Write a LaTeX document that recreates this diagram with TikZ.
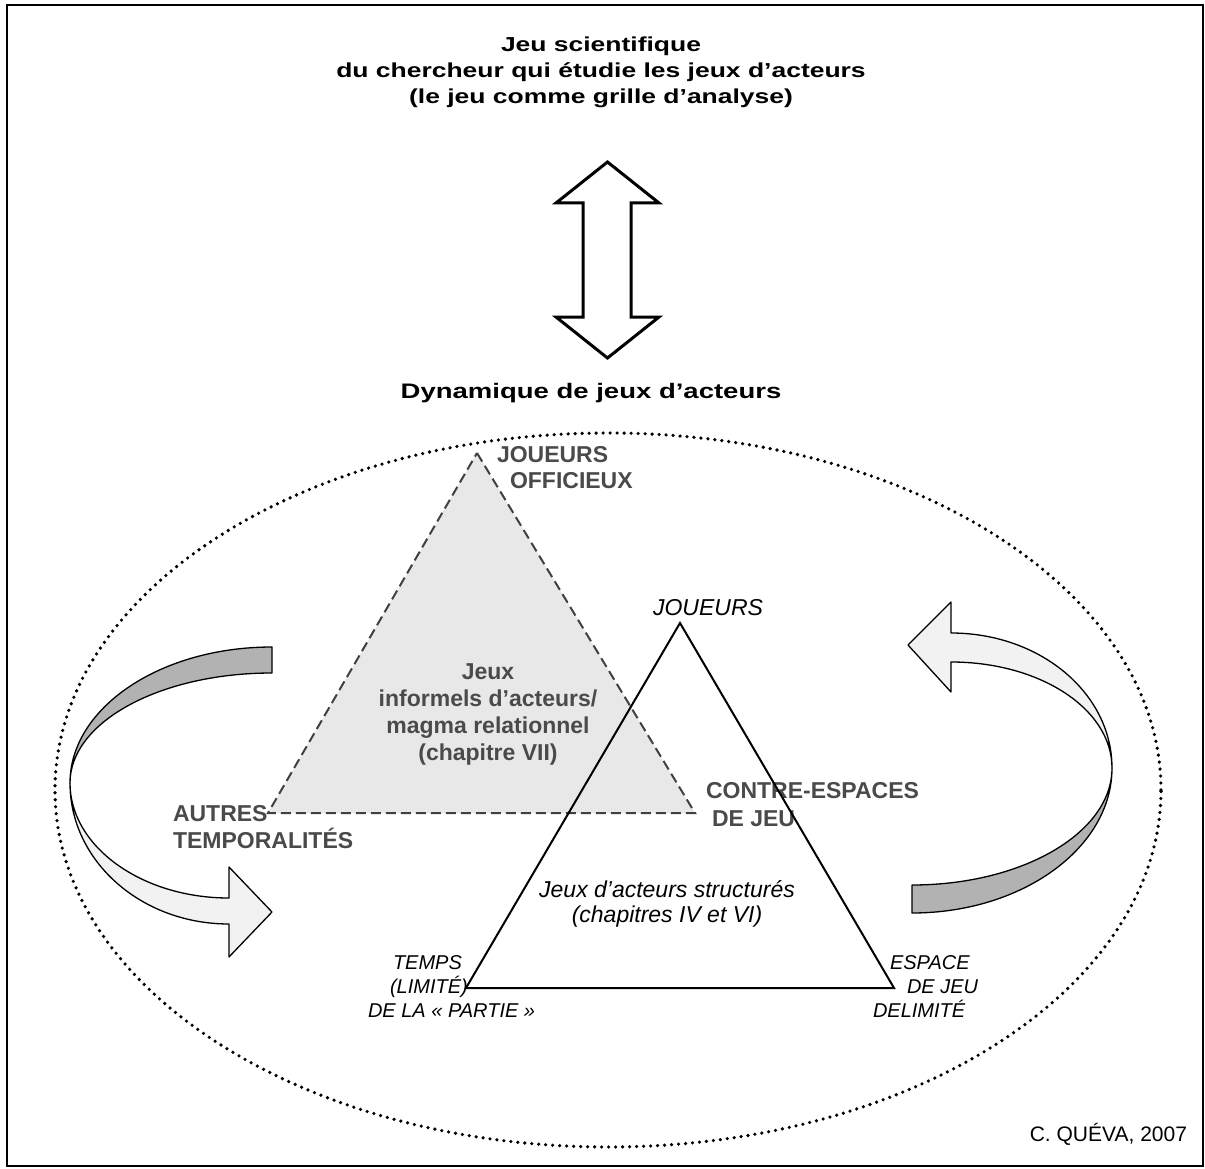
\documentclass[tikz,border=0pt]{standalone}
\usepackage{fontspec}
\setmainfont{Liberation Sans}
\newfontfamily\widesans[FakeStretch=1.31]{Liberation Sans}
\definecolor{labgray}{HTML}{4A4A4A}
\definecolor{trifill}{HTML}{E8E8E8}
\definecolor{dashgray}{HTML}{404040}
\definecolor{bandlight}{HTML}{F2F2F2}
\definecolor{banddark}{HTML}{B2B2B2}
\begin{document}
\begin{tikzpicture}[x=1pt,y=-1pt,
  every node/.style={inner sep=0pt, outer sep=0pt},
  titletext/.style={font=\widesans\fontsize{20.2}{26}\selectfont\bfseries, anchor=base},
  dyntext/.style={font=\widesans\fontsize{21}{26}\selectfont\bfseries, anchor=base},
  graybold/.style={font=\fontsize{23}{27}\selectfont\bfseries, text=labgray, anchor=base west},
  graycenter/.style={font=\fontsize{23}{27}\selectfont\bfseries, text=labgray, anchor=base},
  itallabel/.style={font=\fontsize{23}{27}\selectfont\itshape, anchor=base},
  smallital/.style={font=\fontsize{20}{24}\selectfont\itshape, anchor=base west},
  ribbon/.style={draw=black, line width=1.3pt, line join=round},
  dotline/.style={line width=3.6pt, line cap=round, dash pattern=on 0pt off 7pt},
  dashtri/.style={draw=dashgray, line width=2pt, dash pattern=on 10pt off 5pt, fill=trifill},
  soltri/.style={draw=black, line width=2pt, line join=miter},
  bigarrow/.style={draw=black, line width=3pt, line join=miter, fill=white}
]
\useasboundingbox (0,0) rectangle (1205,1169);
\draw[line width=2pt] (7,5) rectangle (1203,1166);

% title
\node[titletext] (t1) at (601,52) {Jeu scientifique};
\node[titletext] (t2) at (601,78) {du chercheur qui étudie les jeux d’acteurs};
\node[titletext] (t3) at (601,104) {(le jeu comme grille d’analyse)};

% double arrow
\draw[bigarrow] (607.5,162) -- (659,203) -- (631,203) -- (631,317) -- (659,317)
  -- (607.5,358) -- (556,317) -- (583,317) -- (583,203) -- (556,203) -- cycle;

\node[dyntext] (dyn) at (591,398) {Dynamique de jeux d’acteurs};

% dotted ellipse
\draw[dotline] (608,790) ellipse [x radius=553pt, y radius=357pt];

% grey dashed triangle
\coordinate (ga) at (477,453);
\coordinate (gb) at (268,813);
\coordinate (gc) at (695,813);
\draw[dashtri] (ga) -- (gc) -- (gb) -- cycle;

% labels
\node[graybold] (jo1) at (497,462) {JOUEURS};
\node[graybold] (jo2) at (510,488) {OFFICIEUX};
\node[graycenter] (m1) at (488,679) {Jeux};
\node[graycenter] (m2) at (488,706) {informels d’acteurs/};
\node[graycenter] (m3) at (488,733) {magma relationnel};
\node[graycenter] (m4) at (488,760) {(chapitre VII)};
\node[itallabel] (jw) at (708,615) {JOUEURS};
\node[graybold] (ce1) at (706,798) {CONTRE-ESPACES};
\node[graybold] (ce2) at (712,826) {DE JEU};
\node[graybold] (au1) at (173,821) {AUTRES};
\node[graybold] (au2) at (173,848) {TEMPORALITÉS};
\node[itallabel] (js1) at (667,897) {Jeux d’acteurs structurés};
\node[itallabel] (js2) at (667,922) {(chapitres IV et VI)};
\node[smallital] (tp1) at (393,969) {TEMPS};
\node[smallital] (tp2) at (390,993) {(LIMITÉ)};
\node[smallital] (tp3) at (368,1017) {DE LA «\ PARTIE\ »};
\node[smallital] (es1) at (890,969) {ESPACE};
\node[smallital] (es2) at (907,993) {DE JEU};
\node[smallital] (es3) at (873,1017) {DELIMITÉ};
\node[font=\fontsize{21}{25}\selectfont, anchor=base east] (cr) at (1187,1141) {C. QUÉVA, 2007};

% solid triangle
\coordinate (wa) at (680,623);
\coordinate (wb) at (466,988);
\coordinate (wc) at (894,988);
\draw[soltri] (wa) -- (wc) -- (wb) -- cycle;

% left ribbon arrow
\draw[ribbon, fill=banddark] (272,647) .. controls (160,647) and (70,708) .. (70,783)
  .. controls (70,722) and (160,673) .. (272,673) -- cycle;
\draw[ribbon, fill=bandlight] (70,783) .. controls (70,861) and (141,924) .. (229,924)
  -- (229,957) -- (272,912) -- (229,867) -- (229,898)
  .. controls (141,898) and (70,846) .. (70,783) -- cycle;

% right ribbon arrow
\draw[ribbon, fill=bandlight] (951,602) -- (908,645) -- (951,692) -- (951,662)
  .. controls (1040,662) and (1112,709) .. (1112,768)
  .. controls (1112,693) and (1040,633) .. (951,633) -- cycle;
\draw[ribbon, fill=banddark] (1112,768) .. controls (1112,848) and (1022,913) .. (912,913)
  -- (912,885) .. controls (1022,885) and (1112,833) .. (1112,768) -- cycle;
\end{tikzpicture}
\end{document}
